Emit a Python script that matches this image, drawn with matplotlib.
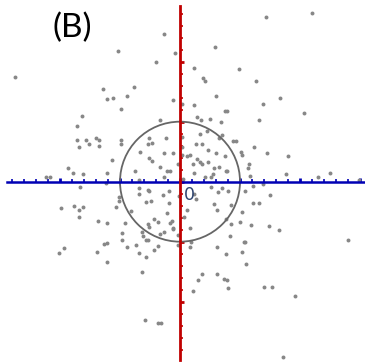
import matplotlib.pyplot as plt
from matplotlib.patches import Circle
import numpy as np

# scattered points (data units, circle radius = 1)
x_pts = [
    -0.27, -1.04, -0.09, -0.40, -2.75, -1.29, -0.77, -1.21, -1.11, -0.89,
    -0.12, -0.99, -1.63, -1.72, -0.34, -0.24, -1.71, -1.56, -1.40, -1.35,
    -0.99, -1.69, -1.51, -1.35, -0.99, -0.52, -0.46, -0.54, -0.67, -0.26,
    -0.12, -0.52, -0.46, -1.14, -0.04, -0.34, -1.87, -0.75, -0.21, -0.17,
    -1.79, -1.61, -1.22, -0.26, -2.24, -2.16, -0.69,
    1.43, 2.20, 0.58, 0.23, 0.98, 0.38, 0.42, 1.27, 0.60, 1.67,
    0.23, 0.03, 1.38, 0.75, 0.78, 2.07, 0.28, 0.50, 0.35, 0.68,
    1.32, 0.45, 0.33, 0.03, 0.70, 0.65, 0.88, 0.93, 0.27, 0.37,
    0.47, 1.23, 0.03, 0.60, 0.75, 1.02, 1.03, 1.45, 1.80, 0.17,
    0.12, 0.03, 0.28, 0.33, 0.37, 0.47, 0.22, 0.57, 0.65, 1.15,
    1.13, 0.23, 0.55, 0.77, 0.78, 1.17, 0.42, 0.52, 1.77, 2.50,
    2.30, 2.98, 0.05,
    -1.66, -1.24, -0.69, -0.69, -0.54, -0.51, -0.29, -0.19, -0.01, -1.01,
    -0.57, -0.49, -0.19, -1.01, -1.99, -1.76, -1.69, -1.61, -1.07, -0.82,
    -1.69, -0.22, -1.37, -1.21, -0.91, -0.44, -0.37, -0.54, -0.52, -0.14,
    -0.16, -0.12, -0.11, -0.64, -0.26, -0.34, -0.96, -0.61, -0.04, -0.96,
    -0.57, -0.54, -0.04, -1.22, -1.26, -0.74, -0.89, -0.36, -1.94, -2.02,
    -1.39, -0.69, -0.44, -0.57, -1.21, -0.64, -0.59, -0.36, -0.31,
    0.52, 0.63, 0.70, 0.80, 1.22, 1.38, 0.23, 0.27, 1.08, 1.50,
    0.57, 0.62, 0.85, 1.22, 1.32, 0.12, 0.07, 1.03, 0.77, 0.85,
    1.00, 1.18, 1.48, 1.65, 0.17, 0.83, 0.18, 0.17, 0.62, 1.07,
    1.08, 0.77, 1.03, 2.80, 1.10, 0.37, 0.30, 0.62, 0.73, 0.78,
    0.22, 0.80, 1.40, 1.53, 1.92, 1.72,
]
y_pts = [
    2.46, 2.17, 2.14, 1.99, 1.75, 1.55, 1.58, 1.37, 1.40, 1.42,
    1.36, 1.21, 1.10, 0.92, 1.02, 0.73, 0.70, 0.70, 0.72, 0.70,
    0.70, 0.58, 0.63, 0.60, 0.62, 0.73, 0.65, 0.62, 0.50, 0.47,
    0.48, 0.40, 0.35, 0.36, 0.30, 0.25, 0.23, 0.18, 0.17, 0.17,
    0.15, 0.13, 0.15, 0.08, 0.08, 0.08, 0.03,
    2.74, 2.81, 2.24, 1.90, 1.88, 1.73, 1.68, 1.68, 1.42, 1.40,
    1.28, 1.30, 1.30, 1.18, 1.17, 1.15, 1.07, 1.05, 1.02, 1.00,
    1.02, 0.85, 0.80, 0.75, 0.77, 0.72, 0.68, 0.67, 0.63, 0.62,
    0.53, 0.57, 0.58, 0.47, 0.43, 0.50, 0.45, 0.47, 0.43, 0.45,
    0.42, 0.45, 0.37, 0.32, 0.30, 0.32, 0.30, 0.23, 0.25, 0.30,
    0.23, 0.15, 0.13, 0.17, 0.17, 0.10, 0.08, 0.07, 0.12, 0.15,
    0.07, 0.03, 0.05,
    -0.09, -0.03, -0.11, -0.21, -0.14, -0.16, -0.22, -0.16, -0.24, -0.26,
    -0.34, -0.32, -0.36, -0.32, -0.44, -0.41, -0.47, -0.42, -0.42, -0.49,
    -0.59, -0.52, -0.65, -0.69, -0.69, -0.62, -0.67, -0.71, -0.76, -0.65,
    -0.69, -0.77, -0.79, -0.84, -0.84, -0.87, -0.86, -0.91, -0.89, -0.97,
    -0.97, -0.97, -1.06, -1.02, -1.04, -1.06, -1.09, -1.07, -1.10, -1.19,
    -1.17, -1.19, -1.14, -1.25, -1.34, -1.51, -2.31, -2.36, -2.36,
    -0.09, -0.17, -0.11, -0.16, -0.07, -0.04, -0.21, -0.29, -0.16, -0.22,
    -0.37, -0.47, -0.39, -0.36, -0.36, -0.47, -0.59, -0.51, -0.62, -0.71,
    -0.67, -0.72, -0.74, -0.81, -0.77, -0.91, -1.01, -1.09, -1.09, -1.01,
    -1.01, -1.21, -1.17, -0.97, -1.37, -1.54, -1.64, -1.54, -1.62, -1.64,
    -1.82, -1.77, -1.76, -1.76, -1.90, -2.92,
]

fig = plt.figure(figsize=(3.65, 3.63), dpi=100)
ax = fig.add_axes([0, 0, 1, 1])
ax.set_xlim(-3.0, 3.083)
ax.set_ylim(-3.022, 3.028)

ax.scatter(x_pts, y_pts, s=8, color="#878787", linewidths=0, zorder=2)
ax.add_patch(Circle((0, 0), 1.0, fill=False, ec="#666666", lw=1.3, zorder=3))

# axes through the origin
ax.spines["right"].set_visible(False)
ax.spines["top"].set_visible(False)
ax.spines["bottom"].set_position(("data", 0))
ax.spines["left"].set_position(("data", 0))
ax.spines["bottom"].set_bounds(-2.88, 3.083)
ax.spines["left"].set_bounds(-2.98, 2.93)
ax.spines["bottom"].set_color("#0000b4")
ax.spines["left"].set_color("#c00000")
ax.spines["bottom"].set_linewidth(1.8)
ax.spines["left"].set_linewidth(2.0)
ax.spines["bottom"].set_zorder(4)
ax.spines["left"].set_zorder(5)

ax.set_xticks(np.arange(-2, 4, 1))
ax.set_xticks(np.arange(-2.8, 3.01, 0.2), minor=True)
ax.set_yticks(np.arange(-2, 3, 1))
ax.set_yticks(np.arange(-2.8, 2.81, 0.2), minor=True)
ax.set_xticklabels([])
ax.set_yticklabels([])
ax.tick_params(axis="x", which="both", direction="in", colors="#0000b4")
ax.tick_params(axis="y", which="both", direction="in", colors="#c00000")
ax.tick_params(which="major", length=3, width=2)
ax.tick_params(which="minor", length=2.2, width=1.2)

ax.text(0.06, -0.07, "0", color="#2f4570", fontsize=12.5, ha="left", va="top",
        zorder=6)
fig.text(0.197, 0.922, "(B)", fontsize=24, family="Lato", ha="center",
         va="center", color="black")

fig.savefig("out.png", dpi=100)
